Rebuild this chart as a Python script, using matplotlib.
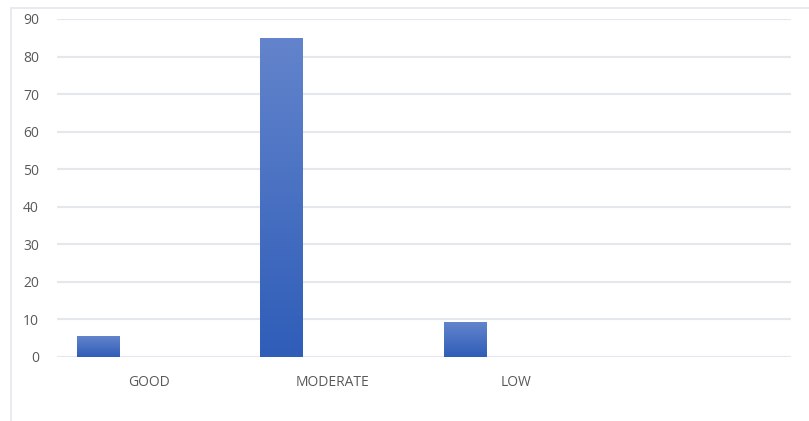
import numpy as np
import matplotlib.pyplot as plt
from matplotlib.colors import LinearSegmentedColormap
from matplotlib.patches import Rectangle

categories = ["GOOD", "MODERATE", "LOW", ""]
values = [5.4, 84.9, 9.2, 0]
y_ticks = [0, 10, 20, 30, 40, 50, 60, 70, 80, 90]

plt.rcParams["font.family"] = ["Open Sans", "DejaVu Sans"]

fig = plt.figure(figsize=(8.09, 4.21), dpi=100)
ax = fig.add_axes([57 / 809, 64 / 421, 734 / 809, 338 / 421])

x = np.arange(len(categories))
bars = ax.bar(x[:3] - 0.278, values[:3], width=0.229, color="none", edgecolor="none")

# degrade bleu, clair en haut, fonce en bas
cmap = LinearSegmentedColormap.from_list("bleu", ["#2f5db8", "#6384cc"])
grad = np.linspace(0, 1, 256).reshape(-1, 1)
for b in bars:
    x0, y0, w, h = b.get_x(), b.get_y(), b.get_width(), b.get_height()
    ax.imshow(grad, cmap=cmap, origin="lower", aspect="auto",
              extent=(x0, x0 + w, y0, y0 + h), zorder=3)

ax.set_xlim(-0.5, 3.5)
ax.set_ylim(0, 90)
ax.set_yticks(y_ticks)
ax.set_xticks(x)
ax.set_xticklabels(categories)

ax.grid(axis="y", color="#e4e7ee", linewidth=1.5, zorder=0)
ax.set_axisbelow(True)
for s in ax.spines.values():
    s.set_visible(False)
ax.tick_params(axis="both", length=0, colors="#595959", labelsize=10)
ax.tick_params(axis="y", pad=13)
ax.tick_params(axis="x", pad=13)

# cadre du graphique
fig.patches.append(Rectangle((11 / 809, -0.05), 0.99, (421 - 8) / 421 + 0.05,
                             transform=fig.transFigure, fill=False,
                             edgecolor="#e3e6ec", linewidth=1.2))

fig.savefig("out.png", dpi=100)
